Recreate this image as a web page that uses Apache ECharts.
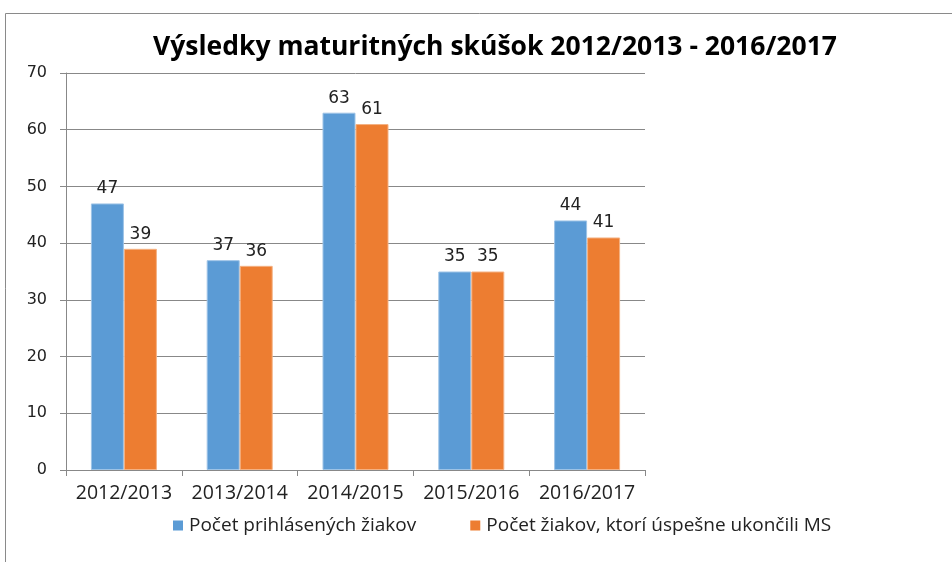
<!DOCTYPE html>
<html><head><meta charset="utf-8">
<script src="https://cdn.jsdelivr.net/npm/echarts@6/dist/echarts.min.js"></script>
<style>html,body{margin:0;padding:0;background:#fff}#c{width:952px;height:562px}</style>
</head><body><div id="c"></div>
<script>
const categories = ['2012/2013','2013/2014','2014/2015','2015/2016','2016/2017'];
const seriesNames = ['Počet prihlásených žiakov','Počet žiakov, ktorí úspešne ukončili MS'];
const registered = [47, 37, 63, 35, 44];
const passed = [39, 36, 61, 35, 41];
const yTicks = [0,10,20,30,40,50,60,70];
const titleText = 'Výsledky maturitných skúšok 2012/2013 - 2016/2017';

const chart = echarts.init(document.getElementById('c'));
const lbl = {show:true, position:'top', distance:6, color:'#222', fontFamily:'DejaVu Sans', fontSize:17};
chart.setOption({
  animation:false,
  backgroundColor:'#fff',
  graphic:[{type:'rect', shape:{x:5.5,y:13.5,width:1000,height:600}, style:{fill:'none', stroke:'#8a8a8a', lineWidth:1}}],
  title:{text:titleText, left:490, top:29, textAlign:'center',
    textStyle:{fontFamily:'Open Sans', fontWeight:'bold', fontSize:26.5, color:'#000'}},
  legend:{bottom:22, left:168, itemWidth:10, itemHeight:10, itemGap:54, icon:'rect',
    itemStyle:{borderWidth:0},
    textStyle:{fontFamily:'Open Sans', fontSize:19, color:'#222', padding:[0,0,0,1]}},
  grid:{left:66, right:307, top:73, bottom:92},
  xAxis:{type:'category', data:categories,
    axisLine:{lineStyle:{color:'#888'}},
    axisTick:{show:true, length:6, lineStyle:{color:'#888'}},
    axisLabel:{interval:0, fontFamily:'Open Sans', fontSize:19.5, color:'#222', margin:13}},
  yAxis:{type:'value', min:0, max:70, interval:10,
    axisLine:{show:true, lineStyle:{color:'#888'}},
    axisTick:{show:true, length:6, lineStyle:{color:'#888'}},
    splitLine:{lineStyle:{color:'#888'}},
    axisLabel:{fontFamily:'DejaVu Sans', fontSize:16, color:'#222', margin:19}},
  series:[
    {name:seriesNames[0], type:'bar', data:registered, barWidth:33, barGap:'0%',
     itemStyle:{color:'#5b9bd5', borderColor:'#9dc3e6', borderWidth:1}, label:lbl},
    {name:seriesNames[1], type:'bar', data:passed, barWidth:33, barGap:'0%',
     itemStyle:{color:'#ed7d31', borderColor:'#f4b183', borderWidth:1}, label:lbl}
  ]
});
</script></body></html>
